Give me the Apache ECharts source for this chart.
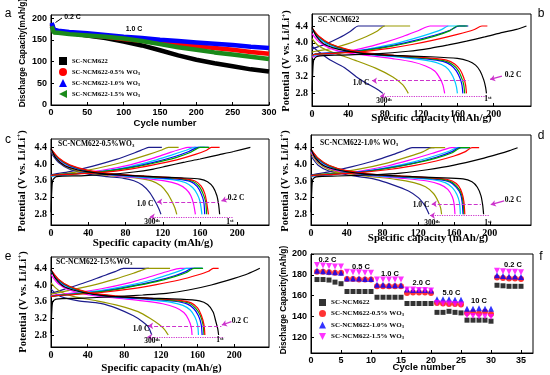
<!DOCTYPE html>
<html><head><meta charset="utf-8">
<script src="https://cdn.jsdelivr.net/npm/echarts@6.0.0/dist/echarts.min.js"></script>
<style>html,body{margin:0;padding:0;background:#fff}#c{width:550px;height:375px}</style>
</head><body><div id="c"></div>
<script>
// ---------------- DATA ----------------
// Panel a: cycling at 0.2 C then 1.0 C  [cycle, capacity mAh/g]
const seriesNames = ['SC-NCM622','SC-NCM622-0.5% WO3','SC-NCM622-1.0% WO3','SC-NCM622-1.5% WO3'];
const aBlack = [[1,186],[2,185],[3,184],[4,171],[10,169],[25,166],[50,160],[75,154],[100,146],[125,137],[150,126],[175,114],[200,104],[225,96],[250,89],[275,82],[300,77]];
const aRed   = [[1,184],[2,183],[3,182],[4,171],[10,169],[25,166],[50,161],[75,157],[100,152],[125,148],[150,143],[175,139],[200,135],[225,131],[250,127],[275,122],[300,118]];
const aBlue  = [[1,189],[2,188],[3,187],[4,173],[10,171],[25,168],[50,165],[75,161],[100,157],[125,154],[150,150],[175,147],[200,144],[225,141],[250,138],[275,134],[300,131]];
const aGreen = [[1,181],[2,180],[3,179],[4,167],[10,166],[25,163],[50,160],[75,157],[100,153],[125,147],[150,140],[175,133],[200,127],[225,121],[250,116],[275,111],[300,106]];

// Panels b-e: curve order = 1st(0.2C), then 1.0 C cycles ... 300th
const curveLabels = ['1st','c2','c3','c4','c5','c6','c7','300th'];

const chargeB = [
 [[0,2.85],[0.8,3.3],[2,3.6],[6,3.68],[30,3.71],[70,3.74],[106,3.8],[130,3.87],[150,3.95],[170,4.04],[190,4.14],[210,4.25],[225,4.32],[236,4.4]],
 [[0,3.7],[4,3.73],[25,3.75],[55,3.79],[85,3.87],[110,3.96],[135,4.07],[160,4.2],[178,4.31],[187,4.4],[193,4.4]],
 [[0,3.7],[4,3.73],[25,3.76],[55,3.81],[85,3.91],[110,4.02],[135,4.16],[152,4.29],[160,4.4],[171,4.4]],
 [[0,3.71],[4,3.74],[25,3.77],[55,3.82],[85,3.92],[110,4.04],[135,4.18],[152,4.3],[162,4.4],[172,4.4]],
 [[0,3.68],[4,3.71],[25,3.75],[55,3.83],[85,3.95],[110,4.09],[130,4.22],[143,4.32],[150,4.4],[169,4.4]],
 [[0,3.66],[4,3.69],[25,3.75],[55,3.87],[80,4.01],[100,4.15],[118,4.3],[130,4.4],[150,4.4]],
 [[0,3.78],[4,3.8],[20,3.86],[40,3.98],[60,4.15],[72,4.28],[80,4.4],[108,4.4]],
 [[0,3.85],[3,3.88],[15,3.97],[30,4.12],[42,4.27],[51,4.4],[80,4.4]]
];
const dischargeB = [
 [[0,4.37],[5,4.15],[15,3.95],[35,3.82],[60,3.74],[90,3.7],[130,3.67],[160,3.63],[172,3.57],[180,3.47],[185,3.33],[189,3.12],[191,2.95],[192,2.8]],
 [[0,4.35],[8,4.15],[20,3.98],[40,3.84],[65,3.75],[100,3.69],[130,3.64],[148,3.59],[157,3.5],[163,3.36],[167,3.17],[169,3.0],[170,2.8]],
 [[0,4.34],[8,4.14],[20,3.97],[40,3.83],[65,3.74],[100,3.68],[128,3.63],[146,3.57],[155,3.48],[161,3.34],[165,3.15],[167,3.0],[168,2.8]],
 [[0,4.34],[8,4.13],[20,3.96],[40,3.82],[65,3.73],[100,3.67],[126,3.62],[144,3.56],[153,3.47],[159,3.33],[163,3.15],[165,3.0],[166,2.8]],
 [[0,4.32],[8,4.1],[20,3.93],[40,3.8],[65,3.72],[95,3.66],[120,3.6],[137,3.53],[147,3.43],[153,3.28],[157,3.1],[159,2.95],[160,2.8]],
 [[0,4.22],[8,4.02],[20,3.87],[40,3.76],[65,3.69],[90,3.62],[110,3.55],[125,3.45],[135,3.33],[141,3.15],[144,3.0],[146,2.8]],
 [[0,4.1],[6,3.95],[15,3.84],[30,3.72],[47,3.59],[70,3.4],[89,3.19],[100,3.0],[106,2.8]],
 [[0,3.92],[8,3.78],[20,3.59],[35,3.42],[49,3.19],[60,3.04],[70,2.92],[78,2.8]]
];

const chargeC = [
 [[0,2.85],[0.8,3.35],[2,3.62],[6,3.7],[30,3.72],[60,3.75],[89,3.81],[110,3.88],[124,3.95],[142,4.04],[160,4.12],[180,4.22],[196,4.3],[214,4.4]],
 [[0,3.72],[4,3.74],[25,3.76],[55,3.8],[85,3.88],[110,3.98],[135,4.1],[155,4.23],[167,4.33],[172,4.4],[181,4.4]],
 [[0,3.72],[4,3.74],[25,3.77],[55,3.82],[85,3.91],[110,4.02],[135,4.16],[150,4.28],[160,4.4],[170,4.4]],
 [[0,3.72],[4,3.74],[25,3.77],[55,3.82],[85,3.92],[110,4.04],[133,4.18],[148,4.3],[158,4.4],[169,4.4]],
 [[0,3.7],[4,3.72],[25,3.76],[55,3.83],[85,3.94],[110,4.08],[130,4.22],[145,4.33],[154,4.4],[165,4.4]],
 [[0,3.7],[4,3.72],[25,3.77],[55,3.85],[85,3.98],[110,4.14],[128,4.28],[140,4.36],[147,4.4],[156,4.4]],
 [[0,3.72],[4,3.74],[25,3.8],[50,3.9],[80,4.06],[105,4.23],[118,4.33],[126,4.4],[137,4.4]],
 [[0,3.74],[4,3.76],[20,3.82],[45,3.95],[70,4.11],[90,4.27],[100,4.36],[105,4.4],[119,4.4]]
];
const dischargeC = [
 [[0,4.37],[5,4.15],[15,3.96],[35,3.83],[60,3.76],[100,3.71],[140,3.67],[160,3.64],[168,3.58],[174,3.45],[178,3.25],[180,3.02],[181,2.8]],
 [[0,4.36],[8,4.15],[20,3.98],[40,3.85],[70,3.76],[110,3.7],[140,3.66],[154,3.6],[161,3.48],[165,3.3],[167,3.1],[168,2.95],[169,2.8]],
 [[0,4.35],[8,4.14],[20,3.97],[40,3.84],[70,3.75],[110,3.69],[138,3.65],[152,3.59],[159,3.47],[163,3.3],[166,3.1],[167,2.8]],
 [[0,4.35],[8,4.13],[20,3.96],[40,3.83],[70,3.74],[110,3.68],[136,3.64],[150,3.58],[157,3.46],[161,3.3],[164,3.1],[165,2.8]],
 [[0,4.34],[8,4.12],[20,3.95],[40,3.82],[70,3.73],[105,3.67],[130,3.63],[144,3.56],[152,3.44],[157,3.28],[160,3.1],[162,2.8]],
 [[0,4.33],[8,4.1],[20,3.93],[40,3.81],[70,3.72],[100,3.66],[122,3.6],[136,3.52],[145,3.4],[150,3.25],[153,3.05],[155,2.8]],
 [[0,4.32],[8,4.08],[20,3.9],[40,3.79],[65,3.72],[90,3.67],[108,3.6],[118,3.48],[125,3.3],[130,3.1],[133,2.95],[135,2.8]],
 [[0,4.27],[8,4.04],[20,3.88],[40,3.76],[60,3.7],[78,3.66],[89,3.6],[98,3.5],[106,3.32],[112,3.1],[116,2.92],[118,2.8]]
];

const chargeD = [
 [[0,2.85],[0.8,3.35],[2,3.64],[6,3.7],[30,3.72],[70,3.75],[100,3.79],[130,3.87],[160,3.98],[190,4.13],[210,4.25],[222,4.33],[231,4.4]],
 [[0,3.72],[4,3.74],[25,3.76],[55,3.8],[85,3.87],[115,3.97],[140,4.08],[160,4.2],[172,4.3],[180,4.4],[188,4.4]],
 [[0,3.72],[4,3.74],[25,3.77],[55,3.81],[85,3.9],[115,4.02],[140,4.15],[158,4.28],[168,4.4],[178,4.4]],
 [[0,3.72],[4,3.74],[25,3.77],[55,3.82],[85,3.91],[115,4.03],[140,4.17],[157,4.3],[166,4.4],[177,4.4]],
 [[0,3.7],[4,3.72],[25,3.76],[55,3.82],[85,3.92],[115,4.06],[138,4.2],[155,4.32],[164,4.4],[176,4.4]],
 [[0,3.7],[4,3.72],[25,3.76],[55,3.84],[85,3.96],[110,4.1],[135,4.26],[150,4.36],[157,4.4],[166,4.4]],
 [[0,3.72],[4,3.74],[25,3.79],[55,3.89],[85,4.03],[110,4.19],[125,4.3],[135,4.4],[150,4.4]],
 [[0,3.74],[4,3.76],[20,3.82],[45,3.94],[70,4.08],[90,4.22],[105,4.34],[113,4.4],[138,4.4]]
];
const dischargeD = [
 [[0,4.37],[5,4.15],[15,3.96],[35,3.84],[60,3.77],[100,3.72],[140,3.68],[170,3.65],[180,3.58],[186,3.45],[190,3.25],[192,3.02],[193,2.8]],
 [[0,4.36],[8,4.15],[20,3.98],[40,3.85],[70,3.76],[110,3.71],[145,3.66],[158,3.6],[165,3.48],[169,3.3],[171,3.1],[172,2.8]],
 [[0,4.35],[8,4.14],[20,3.97],[40,3.84],[70,3.75],[110,3.7],[143,3.65],[156,3.59],[163,3.47],[168,3.3],[170,3.1],[171,2.8]],
 [[0,4.35],[8,4.13],[20,3.96],[40,3.83],[70,3.74],[110,3.69],[141,3.64],[155,3.58],[162,3.46],[167,3.3],[169,3.1],[170,2.8]],
 [[0,4.33],[8,4.11],[20,3.94],[40,3.82],[70,3.73],[108,3.68],[136,3.63],[150,3.56],[158,3.44],[163,3.28],[166,3.08],[167,2.8]],
 [[0,4.3],[8,4.07],[20,3.91],[40,3.8],[70,3.72],[105,3.66],[130,3.6],[144,3.52],[153,3.4],[158,3.22],[160,3.05],[161,2.8]],
 [[0,4.27],[8,4.04],[20,3.88],[40,3.78],[65,3.71],[95,3.64],[115,3.56],[128,3.46],[137,3.3],[142,3.12],[145,2.95],[146,2.8]],
 [[0,4.2],[8,3.98],[20,3.84],[40,3.75],[55,3.7],[72,3.64],[90,3.52],[109,3.36],[120,3.2],[127,3.02],[130,2.9],[132,2.8]]
];

const chargeE = [
 [[0,2.85],[0.8,3.35],[2,3.6],[6,3.66],[30,3.68],[70,3.72],[100,3.76],[126,3.8],[150,3.88],[175,4.0],[200,4.16],[215,4.27],[228,4.4]],
 [[0,3.72],[4,3.74],[25,3.77],[55,3.82],[85,3.9],[115,4.01],[140,4.12],[160,4.24],[172,4.33],[177,4.4],[183,4.4]],
 [[0,3.72],[4,3.74],[25,3.78],[55,3.84],[85,3.95],[115,4.08],[135,4.2],[148,4.3],[156,4.4],[166,4.4]],
 [[0,3.72],[4,3.74],[25,3.78],[55,3.85],[85,3.96],[115,4.1],[135,4.22],[147,4.32],[154,4.4],[165,4.4]],
 [[0,3.72],[4,3.74],[25,3.79],[55,3.87],[85,3.99],[110,4.12],[130,4.26],[142,4.35],[148,4.4],[166,4.4]],
 [[0,3.74],[4,3.76],[25,3.81],[55,3.91],[85,4.05],[110,4.21],[128,4.33],[141,4.4],[154,4.4]],
 [[0,3.78],[4,3.8],[20,3.87],[45,3.99],[70,4.14],[90,4.28],[100,4.36],[105,4.4],[130,4.4]],
 [[0,3.8],[3,3.82],[15,3.9],[35,4.04],[55,4.2],[70,4.32],[79,4.4],[107,4.4]]
];
const dischargeE = [
 [[0,4.37],[5,4.15],[15,3.95],[35,3.82],[60,3.74],[100,3.69],[140,3.66],[162,3.62],[171,3.53],[177,3.35],[180,3.12],[182,2.95],[183,2.8]],
 [[0,4.36],[8,4.14],[20,3.97],[40,3.83],[70,3.74],[110,3.68],[140,3.63],[153,3.57],[160,3.45],[164,3.28],[167,3.05],[168,2.8]],
 [[0,4.35],[8,4.13],[20,3.96],[40,3.82],[70,3.73],[110,3.67],[138,3.62],[151,3.56],[158,3.44],[163,3.27],[166,3.05],[167,2.8]],
 [[0,4.35],[8,4.12],[20,3.95],[40,3.81],[70,3.72],[108,3.66],[135,3.61],[149,3.54],[156,3.43],[161,3.26],[164,3.05],[165,2.8]],
 [[0,4.33],[8,4.1],[20,3.93],[40,3.8],[70,3.71],[105,3.65],[130,3.59],[144,3.51],[152,3.4],[157,3.24],[160,3.05],[161,2.8]],
 [[0,4.25],[8,4.03],[20,3.88],[40,3.77],[70,3.69],[100,3.62],[122,3.55],[136,3.46],[145,3.34],[150,3.18],[153,3.0],[154,2.8]],
 [[0,4.05],[5,3.93],[12,3.82],[25,3.72],[50,3.62],[75,3.5],[95,3.36],[108,3.2],[118,3.05],[124,2.93],[128,2.8]],
 [[0,3.9],[6,3.78],[15,3.69],[30,3.62],[54,3.56],[72,3.44],[90,3.26],[100,3.12],[106,3.0],[110,2.8]]
];

// Panel f: rate capability
const fCycles = [1,2,3,4,5,6,7,8,9,10,11,12,13,14,15,16,17,18,19,20,21,22,23,24,25,26,27,28,29,30,31,32,33,34,35];
const fBlack = [175.5,175.5,175,173,171.5,164,164,164,164,164,158.5,158.5,158.5,158.5,158.5,152.5,152.5,152.5,152.5,152.5,144,144,145,144,143.5,136.5,136.5,136.5,136.5,135.5,170,169.5,169,169,169];
const fRed   = [183,183,182.5,182,182,176,176,175.5,175.5,175.5,169,169,169,169,169,162.5,163,163,163,162.5,153,152.5,152,152,151.5,143.5,144,143,144.5,142.5,177.5,177,176.5,176.5,176];
const fBlue  = [184,183.5,183,182.5,182,176.5,176.5,176.5,176,176,170.5,170.5,170,170,170,166,165.5,165.5,165.5,165,156.5,156.5,156.5,156,156,147.5,147.5,148,147.5,147.5,179.5,179,178.5,178.5,178];
const fMag   = [189.5,189,188.5,188,188,183,182.5,182.5,182,182,175.5,175.5,175.5,175.5,175.5,166,166,165.5,165.5,165,153,152.5,152.5,152,151.5,141,140.5,140,140,139.5,184,183.5,183,183,182.5];
const rateLabels = ['0.2 C','0.5 C','1.0 C','2.0 C','5.0 C','10 C','0.2 C'];

// tick labels
const aXTicks = [0,50,100,150,200,250,300];
const aYTicks = [0,50,100,150,200];
const vXTicks = [0,40,80,120,160,200];
const vYTicks = [2.8,3.2,3.6,4.0,4.4];
const fXTicks = [0,5,10,15,20,25,30,35];
const fYTicks = [120,140,160,180,200];

// ---------------- STYLE / LAYOUT ----------------
const SANS = '"Liberation Sans", Arial, sans-serif';
const SERIF = '"Liberation Serif", "Times New Roman", serif';
const CURVE_COLORS = ['#000000','#ff0000','#00a000','#0000ff','#00c8ff','#ff00ff','#999900','#1c1c8c'];
const A_COLORS = ['#000000','#ff0000','#0000ff','#1a8a1a'];
const F_COLORS = ['#000000','#ff0000','#0000ff','#ff00ff'];
const ANN = '#cc33cc';

const gridBoxes = [
  {left:51, top:15, width:218, height:90},
  {left:312, top:14, width:219, height:92},
  {left:51, top:139, width:218, height:86},
  {left:311, top:135, width:220, height:90},
  {left:51, top:257, width:218, height:90},
  {left:311, top:254, width:222, height:99}
];
const xRanges = [[0,300],[0,241],[0,234],[0,246],[0,238],[0,37]];
const yRanges = [[0,207],[2.5,4.685],[2.545,4.598],[2.543,4.705],[2.512,4.671],[105,200]];

function axis(gi, range, ticks, family, size, margin, isY) {
  return {
    type:'value', gridIndex:gi, min:range[0], max:range[1],
    axisLine:{show:true, onZero:false, lineStyle:{color:'#000', width:1}},
    axisTick:{show:true, inside:true, length:3, customValues:ticks, lineStyle:{color:'#000', width:1}},
    axisLabel:{show:true, customValues:ticks, color:'#000', fontFamily:family, fontWeight:'bold', fontSize:size, margin:margin,
      formatter: (isY && family === SERIF) ? (v => Number(v).toFixed(1)) : (v => String(v))},
    splitLine:{show:false}
  };
}

const xAxes = [], yAxes = [];
for (let i = 0; i < 6; i++) {
  const sans = (i === 0 || i === 5);
  const xt = i === 0 ? aXTicks : (i === 5 ? fXTicks : vXTicks);
  const yt = i === 0 ? aYTicks : (i === 5 ? fYTicks : vYTicks);
  xAxes.push(axis(i, xRanges[i], xt, sans ? SANS : SERIF, sans ? 9 : 10, 3, false));
  yAxes.push(axis(i, yRanges[i], yt, sans ? SANS : SERIF, sans ? 9 : 10, 4, true));
}

const series = [];
// panel a
[aBlack, aRed, aBlue, aGreen].forEach((d, k) => {
  series.push({type:'line', name:'a:' + seriesNames[k], xAxisIndex:0, yAxisIndex:0, data:d,
    symbol:'none', showSymbol:false, lineStyle:{width:4.5, color:A_COLORS[k]}, itemStyle:{color:A_COLORS[k]},
    silent:true, animation:false, z:2});
});

// panels b-e
const cdPanels = [[chargeB, dischargeB],[chargeC, dischargeC],[chargeD, dischargeD],[chargeE, dischargeE]];
const annot = [
  {dash:[3.1,66,172], dot:[2.74,75,194], arr:[209,3.21,196,3.13]},
  {dash:[3.1,114,180], dot:[2.74,106,196], arr:[190,3.17,183,3.12]},
  {dash:[3.05,135,190], dot:[2.77,133,200], arr:[216,3.12,201,3.03]},
  {dash:[3.02,106,186], dot:[2.75,105,189], arr:[197,3.12,186.5,3.04]}
];
cdPanels.forEach((pair, p) => {
  const gi = p + 1;
  for (let k = 7; k >= 0; k--) {
    [pair[0][k], pair[1][k]].forEach((d, j) => {
      series.push({type:'line', name:'p' + gi + '-' + curveLabels[k] + (j ? '-dis' : '-chg'),
        xAxisIndex:gi, yAxisIndex:gi, data:d, symbol:'none', showSymbol:false, smooth:0.25,
        lineStyle:{width:1.2, color:CURVE_COLORS[k]}, itemStyle:{color:CURVE_COLORS[k]},
        silent:true, animation:false, z:2});
    });
  }
  const a = annot[p];
  series.push({type:'line', name:'ann' + gi, xAxisIndex:gi, yAxisIndex:gi, data:[], silent:true, animation:false, z:5,
    markLine:{silent:true, animation:false, label:{show:false}, symbolSize:5,
      data:[
        [{coord:[a.dash[1],a.dash[0]], symbol:'arrow', lineStyle:{color:ANN, type:'dashed', width:1}},
         {coord:[a.dash[2],a.dash[0]], symbol:'none'}],
        [{coord:[a.dot[1],a.dot[0]], symbol:'arrow', lineStyle:{color:ANN, type:'dotted', width:1.2}},
         {coord:[a.dot[2],a.dot[0]], symbol:'none'}],
        [{coord:[a.arr[0],a.arr[1]], symbol:'none', lineStyle:{color:ANN, type:'solid', width:1.3}},
         {coord:[a.arr[2],a.arr[3]], symbol:'arrow'}]
      ]}
  });
});

// panel f
const fSymbols = ['rect','circle','triangle','triangle'];
const fSizes = [5,6,6,6];
[fBlack, fRed, fBlue, fMag].forEach((vals, k) => {
  series.push({type:'scatter', name:'f:' + seriesNames[k], xAxisIndex:5, yAxisIndex:5,
    data: fCycles.map((c, i) => [c, vals[i]]), symbol:fSymbols[k], symbolSize:fSizes[k],
    symbolRotate: k === 3 ? 180 : 0, itemStyle:{color:F_COLORS[k]}, silent:true, animation:false, z:3});
});

// legends
const legRich = {s:{fontSize:4.5, fontFamily:SERIF, fontWeight:'bold', color:'#000', padding:[3,0,0,0]}};
const legFmt = n => n.replace(/^[af]:/, '').replace('WO3', 'WO{s|3}');
const legends = [
  {orient:'vertical', left:59, top:57, itemWidth:8, itemHeight:8, itemGap:3, padding:0, selectedMode:false,
   data:[{name:'a:'+seriesNames[0], icon:'rect'},{name:'a:'+seriesNames[1], icon:'circle'},
         {name:'a:'+seriesNames[2], icon:'triangle'},{name:'a:'+seriesNames[3], icon:'path://M0,5L10,0L10,10Z'}],
   formatter:legFmt, textStyle:{fontFamily:SERIF, fontWeight:'bold', fontSize:6.5, color:'#000', rich:legRich}},
  {orient:'vertical', left:319, top:299, itemWidth:7, itemHeight:7, itemGap:4, padding:0, selectedMode:false,
   data:[{name:'f:'+seriesNames[0], icon:'rect'},{name:'f:'+seriesNames[1], icon:'circle'},
         {name:'f:'+seriesNames[2], icon:'triangle'},{name:'f:'+seriesNames[3], icon:'path://M0,0L10,0L5,10Z'}],
   formatter:legFmt, textStyle:{fontFamily:SERIF, fontWeight:'bold', fontSize:7, color:'#000', rich:legRich}}
];

// graphic texts
function T(x, y, text, o) {
  o = o || {};
  const size = o.size || 8, fam = o.family || SERIF;
  const st = {text:text, fontSize:size, fontFamily:fam, fontWeight:o.weight || 'bold', fill:o.color || '#000',
    align:o.align || 'center', verticalAlign:'middle'};
  st.rich = {
    sup:{fontSize:size*0.65, fontFamily:fam, fontWeight:'bold', fill:'#000', verticalAlign:'top', padding:[0,0,size*0.45,0]},
    sub:{fontSize:size*0.65, fontFamily:fam, fontWeight:'bold', fill:'#000', padding:[size*0.45,0,0,0]}
  };
  return {type:'text', x:x, y:y, rotation:o.rot || 0, z:100, silent:true, style:st};
}
const R90 = Math.PI / 2;
const graphics = [
  T(8,14,'a',{family:SANS, weight:'normal', size:12}),
  T(541,14,'b',{family:SANS, weight:'normal', size:12}),
  T(8,140,'c',{family:SANS, weight:'normal', size:12}),
  T(541,136,'d',{family:SANS, weight:'normal', size:12}),
  T(8,257,'e',{family:SANS, weight:'normal', size:12}),
  T(541,257,'f',{family:SANS, weight:'normal', size:12}),
  // panel a
  T(23,53,'Discharge Capacity(mAh/g)',{family:SANS, size:8.3, rot:R90}),
  T(165,123,'Cycle number',{family:SANS, size:9.5}),
  T(72.5,17,rateLabels[0],{family:SANS, size:7}),
  T(134,29.5,rateLabels[2],{family:SANS, size:7}),
  {type:'line', z:100, silent:true, shape:{x1:62,y1:18,x2:55.5,y2:22.5}, style:{stroke:'#000', lineWidth:1}},
  // panel b
  T(286.5,61,'Potential (V vs. Li/Li{sup|+})',{size:10.5, rot:R90}),
  T(431.5,118.5,'Specific capacity (mAh/g)',{size:11}),
  T(318,20,'SC-NCM622',{size:7.5, align:'left'}),
  T(513,75,'0.2 C',{size:7.5}),
  T(361,83,'1.0 C',{size:7.5}),
  T(384,101,'300{sup|th}',{size:7.5}),
  T(488,99,'1{sup|st}',{size:7.5}),
  // panel c
  T(22,181,'Potential (V vs. Li/Li{sup|+})',{size:10.5, rot:R90}),
  T(153,243.5,'Specific capacity (mAh/g)',{size:11}),
  T(58,144,'SC-NCM622-0.5%WO{sub|3}',{size:7.5, align:'left'}),
  T(236,198.5,'0.2 C',{size:7.5}),
  T(145,204,'1.0 C',{size:7.5}),
  T(152,222,'300{sup|th}',{size:7.5}),
  T(230,222,'1{sup|st}',{size:7.5}),
  // panel d
  T(285,181,'Potential (V vs. Li/Li{sup|+})',{size:10.5, rot:R90}),
  T(428,238,'Specific capacity (mAh/g)',{size:11}),
  T(320,143,'SC-NCM622-1.0% WO{sub|3}',{size:7.5, align:'left'}),
  T(513,200,'0.2 C',{size:7.5}),
  T(421,205,'1.0 C',{size:7.5}),
  T(432,223,'300{sup|th}',{size:7.5}),
  T(488,223,'1{sup|st}',{size:7.5}),
  // panel e
  T(23,302,'Potential (V vs. Li/Li{sup|+})',{size:10.5, rot:R90}),
  T(161.5,368,'Specific capacity (mAh/g)',{size:11}),
  T(56,262,'SC-NCM622-1.5%WO{sub|3}',{size:7.5, align:'left'}),
  T(240,321,'0.2 C',{size:7.5}),
  T(141,329,'1.0 C',{size:7.5}),
  T(152,341,'300{sup|th}',{size:7.5}),
  T(220,340,'1{sup|st}',{size:7.5}),
  // panel f
  T(284,300,'Discharge Capacity(mAh/g)',{family:SANS, size:8.3, rot:R90}),
  T(424,367,'Cycle number',{family:SANS, size:9.5}),
  T(327.5,260,rateLabels[0],{family:SANS, size:7.5}),
  T(361,266.5,rateLabels[1],{family:SANS, size:7.5}),
  T(390,273.5,rateLabels[2],{family:SANS, size:7.5}),
  T(421.5,283,rateLabels[3],{family:SANS, size:7.5}),
  T(451.5,293,rateLabels[4],{family:SANS, size:7.5}),
  T(479,301,rateLabels[5],{family:SANS, size:7.5}),
  T(513,265,rateLabels[6],{family:SANS, size:7.5})
];

const chart = echarts.init(document.getElementById('c'), null, {renderer:'canvas', width:550, height:375});
chart.setOption({
  backgroundColor:'#ffffff',
  animation:false,
  grid: gridBoxes.map(g => Object.assign({show:true, borderColor:'#000', borderWidth:1, backgroundColor:'transparent', containLabel:false}, g)),
  xAxis: xAxes,
  yAxis: yAxes,
  legend: legends,
  series: series,
  graphic: {elements: graphics}
});
</script></body></html>
